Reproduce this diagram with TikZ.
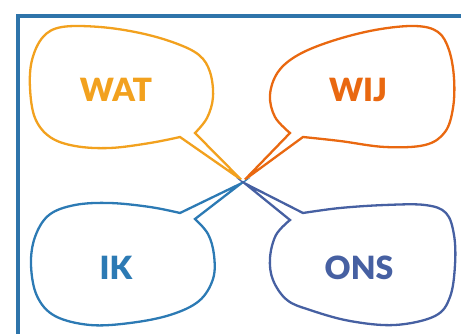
\documentclass[tikz,border=0pt]{standalone}
\usepackage{fontspec}
\setsansfont{Lato}[BoldFont={Lato Black}]

\definecolor{panelblue}{RGB}{46,116,170}
\definecolor{watorange}{RGB}{242,161,30}
\definecolor{wijorange}{RGB}{233,104,16}
\definecolor{ikblue}{RGB}{44,122,180}
\definecolor{onsblue}{RGB}{70,96,162}

\begin{document}
\begin{tikzpicture}[
  x=1pt, y=-1pt,
  panel/.style={draw=panelblue, line width=4pt},
  bubble/.style={line width=2.3pt, line join=miter},
  word/.style={font=\sffamily\bfseries\fontsize{32}{32}\selectfont, inner sep=0pt}
]
\useasboundingbox (0,0) rectangle (461,334);

% Frame (cut off at right and bottom)
\draw[panel] (18,340) -- (18,16) -- (470,16);

% Meeting point of the tails
\coordinate (c) at (243,181.5);

% Words
\node[word, text=watorange] (wat) at (116,90) {WAT};
\node[word, text=wijorange] (wij) at (358,90) {WIJ};
\node[word, text=ikblue] (ik) at (116,268) {IK};
\node[word, text=onsblue] (ons) at (359,268) {ONS};

% Speech bubbles
\draw[bubble, draw=watorange] plot[smooth, tension=0.6] coordinates {
  (195,133) (207,118) (213,97) (210,72) (199,55) (175,43) (140,33)
  (100,27) (62,27) (43,37) (32,60) (30,88) (35,118) (50,137)
  (75,146) (110,148) (150,143) (180,137)}
  -- ([shift={(-2,-2)}]c) -- cycle;

\draw[bubble, draw=wijorange] plot[smooth, tension=0.6] coordinates {
  (303,137) (340,141) (385,147) (425,145) (445,132) (453,108) (454,78)
  (449,50) (438,32) (415,26) (375,30) (332,41) (298,55) (278,72)
  (270,95) (275,117) (290,133)}
  -- ([shift={(2,-2)}]c) -- cycle;

\draw[bubble, draw=ikblue] plot[smooth, tension=0.6] coordinates {
  (180,213) (150,207) (110,203) (75,205) (49,215) (35,237) (31,265)
  (37,296) (55,316) (90,325) (130,323) (170,315) (199,301) (213,279)
  (214,255) (208,234) (195,219)}
  -- ([shift={(-2,2)}]c) -- cycle;

\draw[bubble, draw=onsblue] plot[smooth, tension=0.6] coordinates {
  (303,213) (340,208) (385,205) (425,205) (446,213) (454,235) (455,265)
  (450,297) (435,316) (395,325) (350,321) (310,310) (287,300) (273,280)
  (270,258) (276,235) (290,220)}
  -- ([shift={(2,2)}]c) -- cycle;

\end{tikzpicture}
\end{document}
